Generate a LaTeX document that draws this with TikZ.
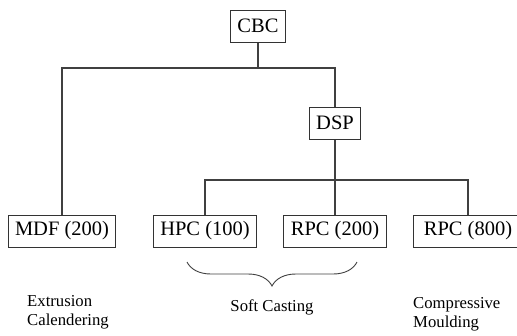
\documentclass[tikz,border=0pt]{standalone}
\usepackage{fontspec}
\setmainfont{Liberation Serif}
\usetikzlibrary{decorations.pathreplacing}
\tikzset{cell/.style={draw=black!80,line width=1pt,fill=white,inner xsep=7pt,minimum height=32pt,font=\fontsize{20.5}{24}\selectfont},
         link/.style={draw=black!75,line width=1.1pt},
         note/.style={inner sep=0pt,align=left,font=\fontsize{16.7}{19}\selectfont}}

\begin{document}
\begin{tikzpicture}[x=1pt,y=-1pt]
                \useasboundingbox (0,0) rectangle (517,335);
                % boxes
                \node[cell] (cbc) at (258,26) {CBC};
                \node[cell] (dsp) at (335,123) {DSP};
                \node[cell] (mdf) at (62,231) {MDF (200)};
                \node[cell] (hpc) at (205,231) {HPC (100)};
                \node[cell] (rpcl) at (335,231) {RPC (200)};
                \node[cell,minimum width=110pt] (rpch) at (468,231) {RPC (800)};
                \coordinate (fork) at (0,68);
                \coordinate (split) at (0,180);
                % tree
                \draw[link] (cbc) -- (cbc |- fork);
                \draw[link] (mdf) |- (dsp |- fork) -- (dsp);
                \draw[link] (dsp) -- (rpcl);
                \draw[link] (hpc) |- (rpch |- split) -- (rpch);
                % brace and processes
                \draw[link,line width=0.9pt,decorate,decoration={brace,mirror,amplitude=24pt}] (187,262) -- (357,262);
                \node[note,anchor=west] (extr) at (27,312) {Extrusion\\Calendering};
                \node[note] (soft) at (272,307) {Soft Casting};
                \node[note,anchor=west] (comp) at (413,314) {Compressive\\Moulding};
\end{tikzpicture}
\end{document}
